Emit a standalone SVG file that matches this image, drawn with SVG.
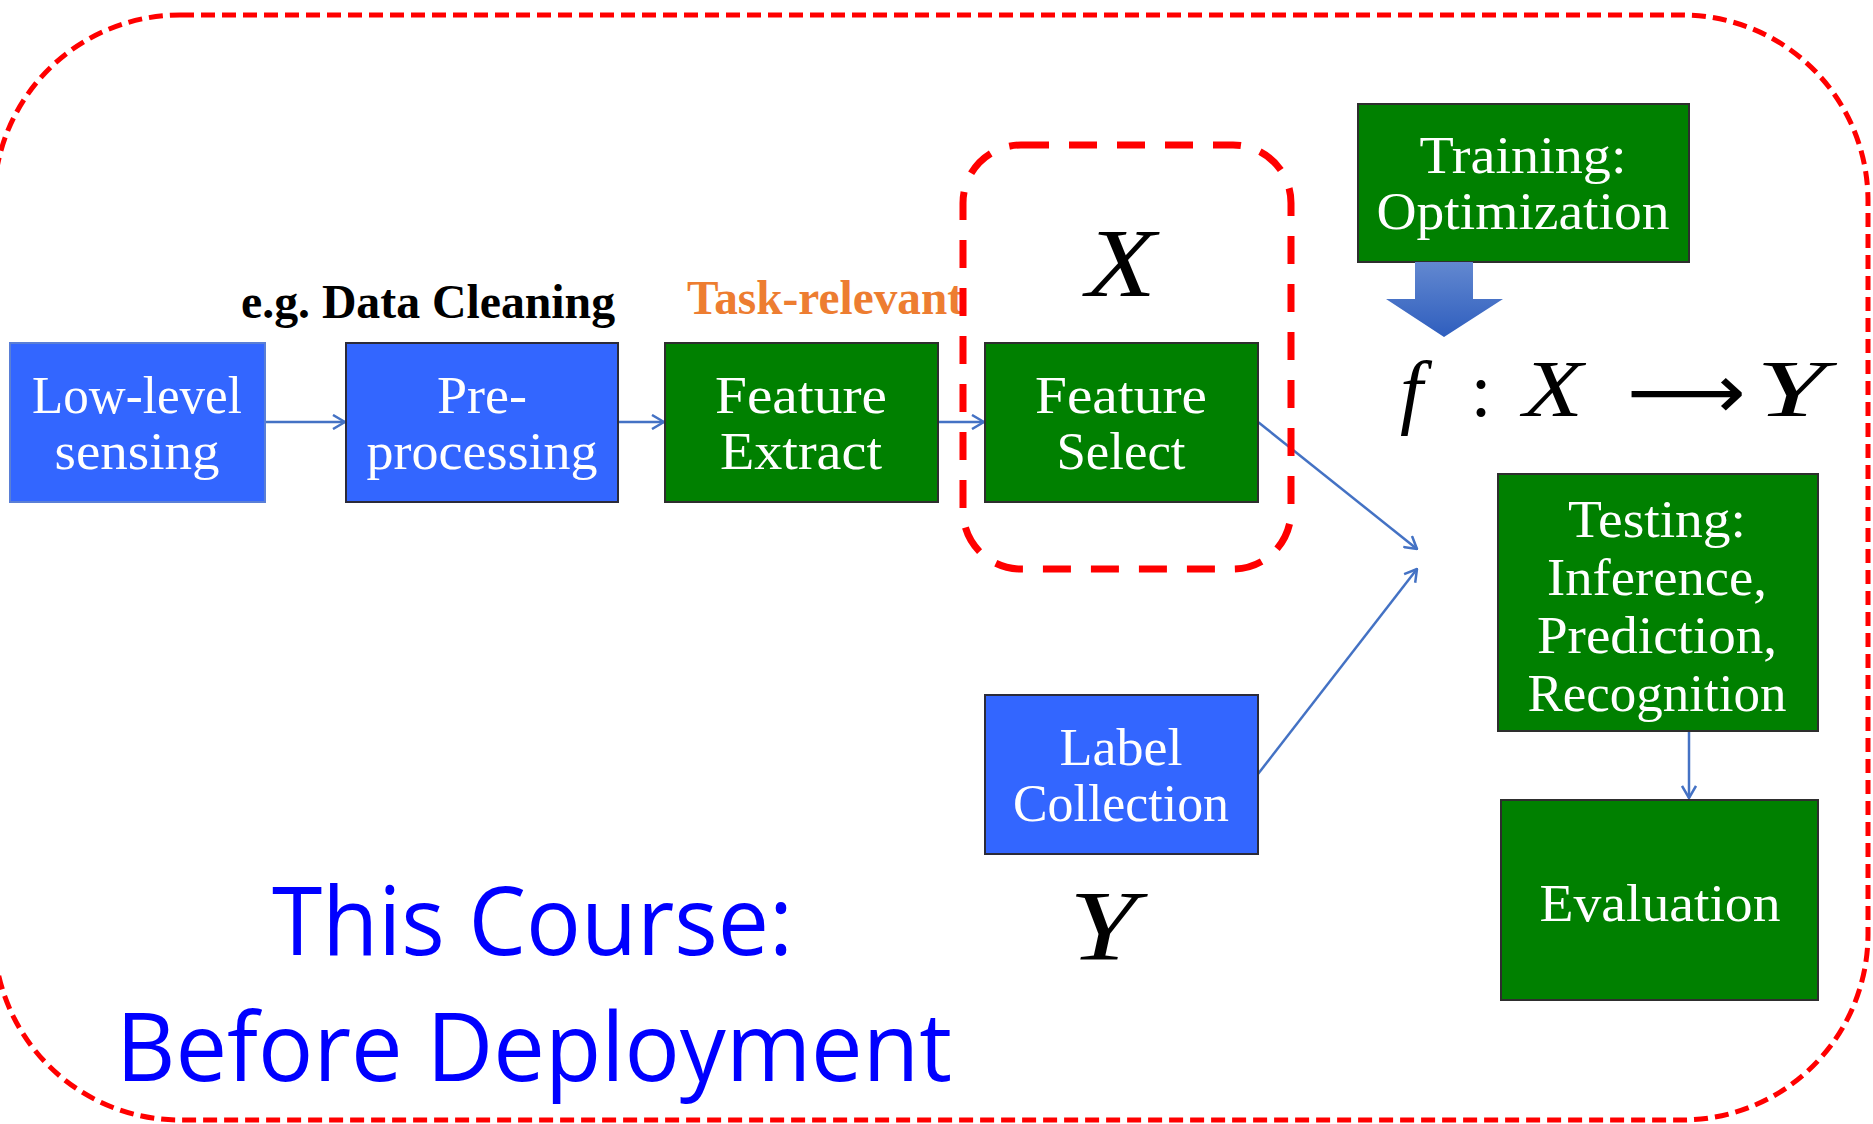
<svg xmlns="http://www.w3.org/2000/svg" width="1873" height="1124" viewBox="0 0 1873 1124">
  <style>
    .box-blue { fill: #3366FF; stroke: #2B2B3A; stroke-width: 2; }
    .box-green { fill: #008000; stroke: #2E2E2E; stroke-width: 2; }
    .lbl { font-family: "Liberation Serif", "Times New Roman", serif; font-size: 52px; fill: #FFFFFF; text-anchor: middle; }
    .note { font-family: "Liberation Serif", "Times New Roman", serif; font-size: 48px; font-weight: bold; }
    .math { font-family: "Liberation Serif", "Times New Roman", serif; font-style: italic; fill: #000000; }
    .edge { fill: none; stroke: #4472C4; stroke-width: 2.5; marker-end: url(#open); }
    .title { font-family: "Open Sans", "Noto Sans", sans-serif; font-size: 96px; fill: #0000FF; }
  </style>
  <defs>
    <marker id="open" viewBox="0 0 14 16" refX="13" refY="8" markerWidth="14" markerHeight="16" markerUnits="userSpaceOnUse" orient="auto">
      <path d="M1,1 L13,8 L1,15" fill="none" stroke="#4472C4" stroke-width="2.5"/>
    </marker>
    <linearGradient id="arrowFill" x1="0" y1="0" x2="0" y2="1">
      <stop offset="0" stop-color="#6288D0"/>
      <stop offset="1" stop-color="#2F5EBE"/>
    </linearGradient>
  </defs>

  <rect width="1873" height="1124" fill="#FFFFFF"/>

  <!-- outer boundary -->
  <rect id="scope" x="-6" y="15" width="1874" height="1105" rx="186" ry="186" fill="none" stroke="#FF0000" stroke-width="5" stroke-dasharray="14 7"/>

  <!-- side notes -->
  <text id="note-cleaning" class="note" x="241" y="318" fill="#000000" textLength="374" lengthAdjust="spacingAndGlyphs">e.g. Data Cleaning</text>
  <text id="note-relevant" class="note" x="687" y="314" fill="#ED7D31" textLength="276" lengthAdjust="spacingAndGlyphs">Task-relevant</text>

  <!-- connectors -->
  <g id="connectors">
    <line class="edge" x1="265" y1="422" x2="345" y2="422"/>
    <line class="edge" x1="618" y1="422" x2="664" y2="422"/>
    <line class="edge" x1="938" y1="422" x2="984" y2="422"/>
    <line class="edge" x1="1258" y1="422" x2="1417" y2="549"/>
    <line class="edge" x1="1258" y1="774" x2="1417" y2="569"/>
    <line class="edge" x1="1689" y1="731" x2="1689" y2="798"/>
  </g>

  <!-- nodes -->
  <g id="low-level-sensing">
    <rect class="box-blue" x="10" y="343" width="255" height="159" style="stroke:#5A7FD6"/>
    <text class="lbl" x="137" y="413" textLength="210" lengthAdjust="spacingAndGlyphs">Low-level</text>
    <text class="lbl" x="137" y="469" textLength="165" lengthAdjust="spacingAndGlyphs">sensing</text>
  </g>
  <g id="pre-processing">
    <rect class="box-blue" x="346" y="343" width="272" height="159"/>
    <text class="lbl" x="482" y="413" textLength="90" lengthAdjust="spacingAndGlyphs">Pre-</text>
    <text class="lbl" x="482" y="469" textLength="231" lengthAdjust="spacingAndGlyphs">processing</text>
  </g>
  <g id="feature-extract">
    <rect class="box-green" x="665" y="343" width="273" height="159"/>
    <text class="lbl" x="801" y="413" textLength="172" lengthAdjust="spacingAndGlyphs">Feature</text>
    <text class="lbl" x="801" y="469" textLength="162" lengthAdjust="spacingAndGlyphs">Extract</text>
  </g>
  <g id="feature-select">
    <rect class="box-green" x="985" y="343" width="273" height="159"/>
    <text class="lbl" x="1121" y="413" textLength="172" lengthAdjust="spacingAndGlyphs">Feature</text>
    <text class="lbl" x="1121" y="469" textLength="129" lengthAdjust="spacingAndGlyphs">Select</text>
  </g>
  <g id="training">
    <rect class="box-green" x="1358" y="104" width="331" height="158"/>
    <text class="lbl" x="1523" y="173" textLength="207" lengthAdjust="spacingAndGlyphs">Training:</text>
    <text class="lbl" x="1523" y="229" textLength="293" lengthAdjust="spacingAndGlyphs">Optimization</text>
  </g>
  <g id="testing">
    <rect class="box-green" x="1498" y="474" width="320" height="257"/>
    <text class="lbl" x="1657" y="537" textLength="178" lengthAdjust="spacingAndGlyphs">Testing:</text>
    <text class="lbl" x="1657" y="595" textLength="220" lengthAdjust="spacingAndGlyphs">Inference,</text>
    <text class="lbl" x="1657" y="653" textLength="240" lengthAdjust="spacingAndGlyphs">Prediction,</text>
    <text class="lbl" x="1657" y="711" textLength="259" lengthAdjust="spacingAndGlyphs">Recognition</text>
  </g>
  <g id="evaluation">
    <rect class="box-green" x="1501" y="800" width="317" height="200"/>
    <text class="lbl" x="1660" y="921" textLength="241" lengthAdjust="spacingAndGlyphs">Evaluation</text>
  </g>
  <g id="label-collection">
    <rect class="box-blue" x="985" y="695" width="273" height="159"/>
    <text class="lbl" x="1121" y="765" textLength="123" lengthAdjust="spacingAndGlyphs">Label</text>
    <text class="lbl" x="1121" y="821" textLength="216" lengthAdjust="spacingAndGlyphs">Collection</text>
  </g>

  <!-- training feeds the model -->
  <path id="train-arrow" d="M1415,262 L1473,262 L1473,299 L1503,299 L1444,337 L1386,299 L1415,299 Z" fill="url(#arrowFill)"/>

  <!-- feature-selection emphasis -->
  <rect id="selection-scope" x="963" y="145" width="328" height="424" rx="58" ry="58" fill="none" stroke="#FF0000" stroke-width="7" stroke-dasharray="28 20"/>

  <!-- symbols -->
  <text id="sym-x" class="math" x="1121" y="296" font-size="98" text-anchor="middle" textLength="70" lengthAdjust="spacingAndGlyphs">X</text>
  <text id="sym-y" class="math" x="1103" y="959" font-size="100" text-anchor="middle" textLength="68" lengthAdjust="spacingAndGlyphs">Y</text>
  <g id="mapping">
    <text class="math" x="1400" y="418" font-size="82">f</text>
    <text x="1481" y="416" font-size="76" font-family="Liberation Serif, serif" text-anchor="middle">:</text>
    <text class="math" x="1523" y="416" font-size="80" textLength="60" lengthAdjust="spacingAndGlyphs">X</text>
    <text x="1627" y="418" font-size="76" font-family="DejaVu Sans, sans-serif" textLength="119" lengthAdjust="spacingAndGlyphs">⟶</text>
    <text class="math" x="1756" y="416" font-size="80" textLength="70" lengthAdjust="spacingAndGlyphs">Y</text>
  </g>

  <!-- headline -->
  <text id="title-1" class="title" x="272" y="955" textLength="521" lengthAdjust="spacingAndGlyphs">This Course:</text>
  <text id="title-2" class="title" x="116" y="1081" textLength="836" lengthAdjust="spacingAndGlyphs">Before Deployment</text>
</svg>
